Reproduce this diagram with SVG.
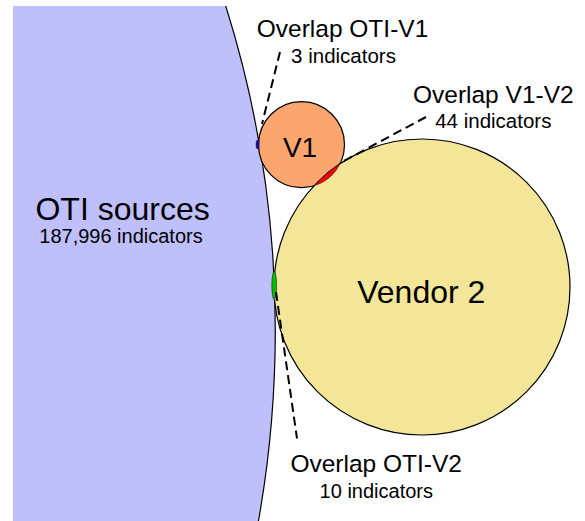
<svg xmlns="http://www.w3.org/2000/svg" width="585" height="521" viewBox="0 0 585 521">
  <defs>
    <style>
      .circ { stroke: #000; stroke-width: 1.2; }
      .lens { stroke: #222; stroke-width: 0.6; }
      .conn { fill: none; stroke: #000; stroke-width: 2; stroke-dasharray: 9 5; }
      text { font-family: "Liberation Sans", Arial, Helvetica, sans-serif; fill: #000; text-anchor: middle; }
      .big { font-size: 32px; }
      .head { font-size: 24.5px; }
      .sub { font-size: 20.5px; }
    </style>
    <clipPath id="frame">
      <rect x="13" y="6" width="572" height="515"/>
    </clipPath>
  </defs>
  <rect width="585" height="521" fill="#fff"/>

  <g id="oti">
    <circle class="circ" cx="-805.4" cy="329.8" r="1080.7" fill="#bfbffc" clip-path="url(#frame)"/>
    <text class="big" x="122.6" y="219.5">OTI sources</text>
    <text class="sub" x="121" y="243.3" style="font-size:20px">187,996 indicators</text>
  </g>

  <g id="v1">
    <circle class="circ" cx="301.5" cy="144.7" r="43" fill="#fca66f"/>
    <text x="300" y="157.3" style="font-size:28px">V1</text>
  </g>

  <g id="vendor2">
    <circle class="circ" cx="422" cy="287" r="148" fill="#f3e698"/>
    <text class="big" x="421.3" y="303.3">Vendor 2</text>
  </g>

  <g id="overlap-oti-v1">
    <ellipse class="lens" cx="257.6" cy="144.5" rx="1.5" ry="4.6" fill="#0000cc"/>
  </g>
  <g id="overlap-v1-v2">
    <path class="lens" d="M313.94,185.85 A43,43 0 0 0 340.04,163.75 A148,148 0 0 0 313.94,185.85 Z" fill="#ff0000"/>
  </g>
  <g id="overlap-oti-v2">
    <ellipse class="lens" cx="274.2" cy="285.5" rx="2.4" ry="14" fill="#00bb00"/>
  </g>

  <g id="connectors">
    <line class="conn" x1="280" y1="52" x2="262" y2="124"/>
    <line class="conn" x1="426" y1="117" x2="340" y2="163"/>
    <line class="conn" x1="276" y1="292" x2="297" y2="438.5"/>
  </g>

  <g id="labels">
    <text class="head" x="342.5" y="36.7">Overlap OTI-V1</text>
    <text class="sub" x="343.5" y="62.7">3 indicators</text>
    <text class="head" x="493.3" y="102.7">Overlap V1-V2</text>
    <text class="sub" x="493.3" y="128.3">44 indicators</text>
    <text class="head" x="376.2" y="471.7">Overlap OTI-V2</text>
    <text class="sub" x="376.3" y="498.3" style="font-size:20px">10 indicators</text>
  </g>
</svg>
